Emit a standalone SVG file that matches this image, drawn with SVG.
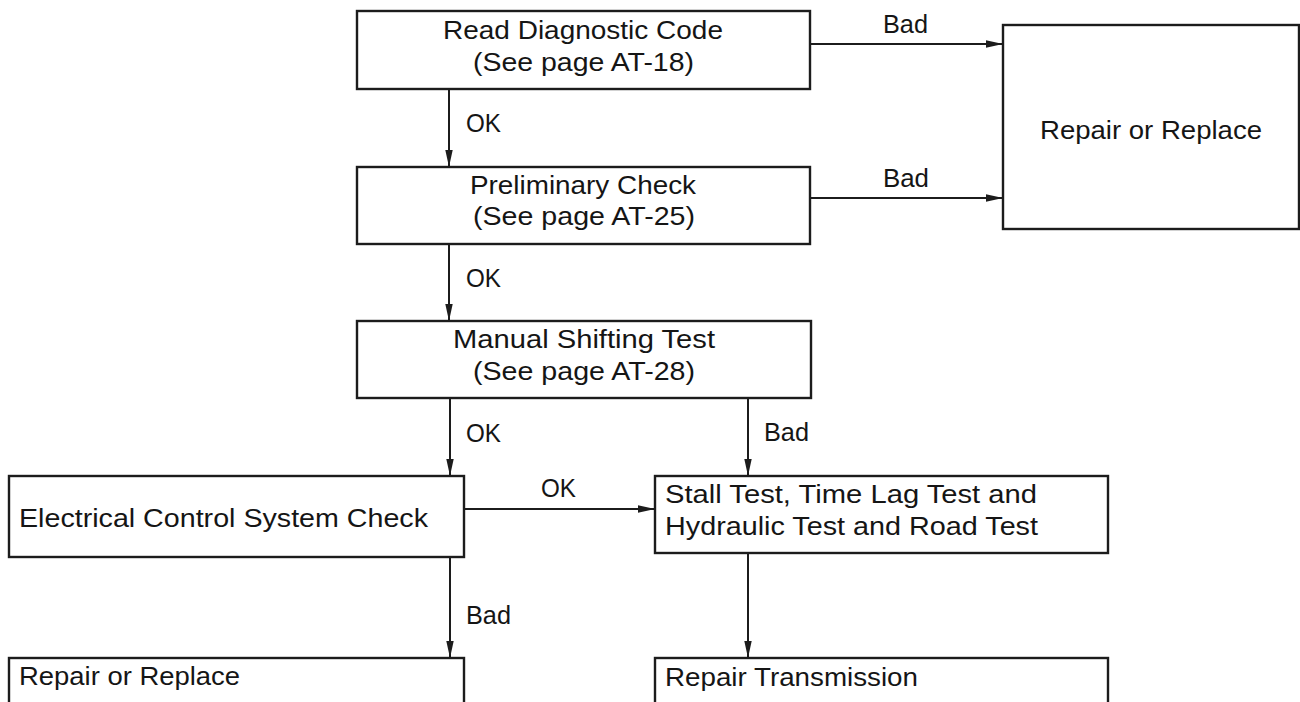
<svg xmlns="http://www.w3.org/2000/svg" width="1300" height="702" viewBox="0 0 1300 702">
<style>
.box{fill:#fff;stroke:#1c1c1c;stroke-width:2.4}
.t{font-family:"Liberation Sans",Arial,sans-serif;font-size:25px;fill:#151515}
.c{stroke:#1c1c1c;stroke-width:2;fill:none;marker-end:url(#ah)}
</style>
<defs>
<marker id="ah" viewBox="0 0 17 9" refX="17" refY="4.5" markerWidth="17" markerHeight="9" markerUnits="userSpaceOnUse" orient="auto">
<path d="M0,0.8 L17,4.5 L0,8.2 Z" fill="#1c1c1c"/>
</marker>
</defs>
<rect width="1300" height="702" fill="#fff"/>
<g id="connectors">
<line class="c" x1="810" y1="44" x2="1003" y2="44"/>
<line class="c" x1="810" y1="198" x2="1003" y2="198"/>
<line class="c" x1="449" y1="89" x2="449" y2="167"/>
<line class="c" x1="449" y1="244" x2="449" y2="321"/>
<line class="c" x1="450" y1="398" x2="450" y2="476"/>
<line class="c" x1="748" y1="398" x2="748" y2="476"/>
<line class="c" x1="464" y1="509" x2="655" y2="509"/>
<line class="c" x1="450" y1="557" x2="450" y2="658"/>
<line class="c" x1="748" y1="553" x2="748" y2="658"/>
<text class="t" x="883" y="33" textLength="45" lengthAdjust="spacingAndGlyphs">Bad</text>
<text class="t" x="883" y="187" textLength="46" lengthAdjust="spacingAndGlyphs">Bad</text>
<text class="t" x="466" y="132" textLength="35" lengthAdjust="spacingAndGlyphs">OK</text>
<text class="t" x="466" y="287" textLength="35" lengthAdjust="spacingAndGlyphs">OK</text>
<text class="t" x="466" y="442" textLength="35" lengthAdjust="spacingAndGlyphs">OK</text>
<text class="t" x="541" y="497" textLength="35" lengthAdjust="spacingAndGlyphs">OK</text>
<text class="t" x="764" y="441" textLength="45" lengthAdjust="spacingAndGlyphs">Bad</text>
<text class="t" x="466" y="624" textLength="45" lengthAdjust="spacingAndGlyphs">Bad</text>
</g>
<g id="read-code">
<rect class="box" x="357" y="11" width="453" height="78"/>
<text class="t" x="443" y="39" textLength="280" lengthAdjust="spacingAndGlyphs">Read Diagnostic Code</text>
<text class="t" x="473" y="71" textLength="221" lengthAdjust="spacingAndGlyphs">(See page AT-18)</text>
</g>
<g id="preliminary">
<rect class="box" x="357" y="167" width="453" height="77"/>
<text class="t" x="470" y="194" textLength="226" lengthAdjust="spacingAndGlyphs">Preliminary Check</text>
<text class="t" x="473" y="225" textLength="222" lengthAdjust="spacingAndGlyphs">(See page AT-25)</text>
</g>
<g id="manual-shift">
<rect class="box" x="357" y="321" width="454" height="77"/>
<text class="t" x="453" y="348" textLength="262" lengthAdjust="spacingAndGlyphs">Manual Shifting Test</text>
<text class="t" x="473" y="380" textLength="222" lengthAdjust="spacingAndGlyphs">(See page AT-28)</text>
</g>
<g id="repair-replace-top">
<rect class="box" x="1003" y="25" width="296" height="204"/>
<text class="t" x="1040" y="139" textLength="222" lengthAdjust="spacingAndGlyphs">Repair or Replace</text>
</g>
<g id="electrical">
<rect class="box" x="9" y="476" width="455" height="81"/>
<text class="t" x="19" y="527" textLength="409" lengthAdjust="spacingAndGlyphs">Electrical Control System Check</text>
</g>
<g id="stall-test">
<rect class="box" x="655" y="476" width="453" height="77"/>
<text class="t" x="665" y="503" textLength="372" lengthAdjust="spacingAndGlyphs">Stall Test, Time Lag Test and</text>
<text class="t" x="665" y="535" textLength="373" lengthAdjust="spacingAndGlyphs">Hydraulic Test and Road Test</text>
</g>
<g id="repair-replace-bottom">
<rect class="box" x="9" y="658" width="455" height="60"/>
<text class="t" x="19" y="685" textLength="221" lengthAdjust="spacingAndGlyphs">Repair or Replace</text>
</g>
<g id="repair-transmission">
<rect class="box" x="655" y="658" width="453" height="60"/>
<text class="t" x="665" y="686" textLength="253" lengthAdjust="spacingAndGlyphs">Repair Transmission</text>
</g>
</svg>
